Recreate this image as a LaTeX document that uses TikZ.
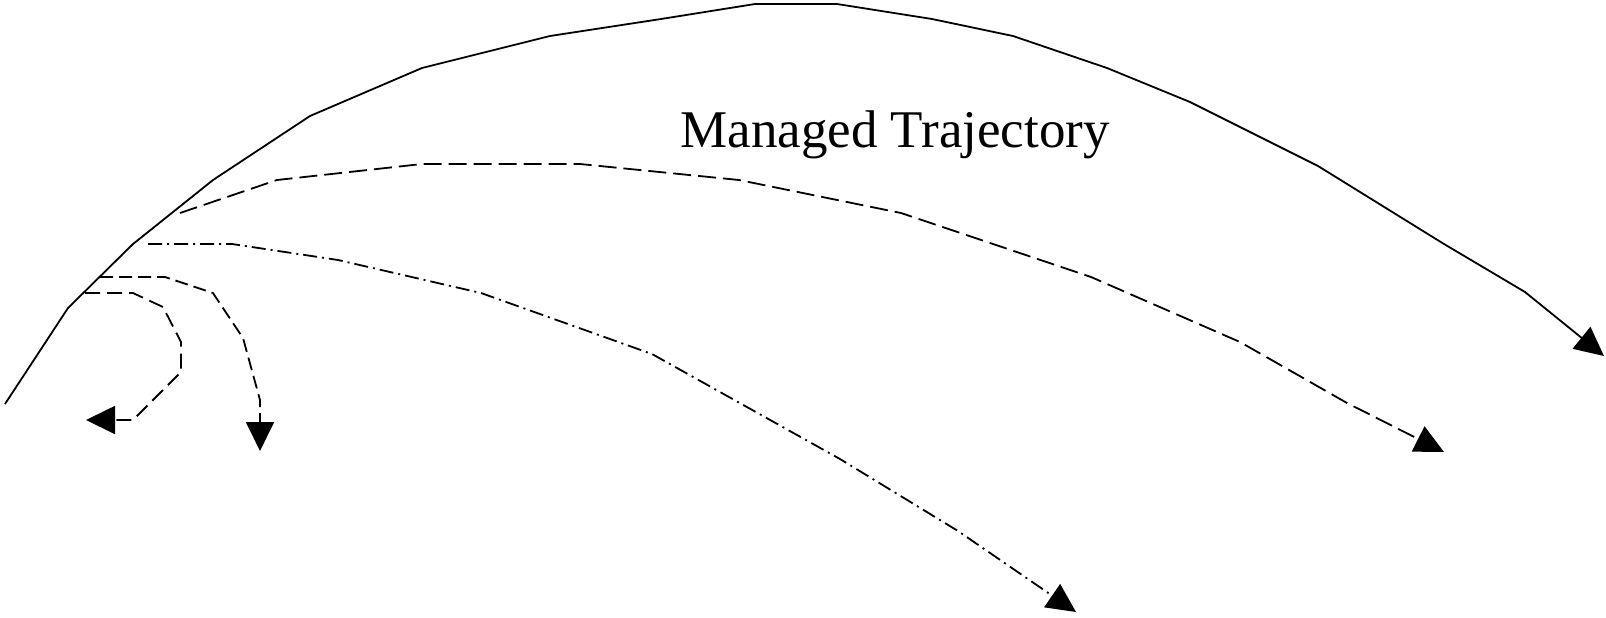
\documentclass[tikz,border=0pt]{standalone}
\usepackage{fontspec}
\setmainfont{Liberation Serif}
\usetikzlibrary{arrows.meta}
\begin{document}
\begin{tikzpicture}[x=0.5pt,y=-0.5pt,
  traj/.style={line width=0.9pt, line join=miter, -{Triangle[length=14.5pt,width=14pt]}},
  longdash/.style={dash pattern=on 9pt off 3.5pt},
  middash/.style={dash pattern=on 7.5pt off 3.5pt},
  shortdash/.style={dash pattern=on 6.5pt off 3pt},
  dashdot/.style={dash pattern=on 7pt off 2.5pt on 1pt off 2.5pt},
  label/.style={font=\fontsize{26.5}{30}\selectfont, inner sep=0pt, anchor=base}]
\useasboundingbox (0,0) rectangle (1606,617);
% managed trajectory (solid)
\draw[traj] (5,404) -- (68,308) -- (133,244) -- (213,180) -- (310,116) -- (422,68)
  -- (550,36) -- (661,19) -- (755,4) -- (837,4) -- (932,19) -- (1013,36) -- (1107,68)
  -- (1190,102) -- (1318,166) -- (1444,244) -- (1525,292) -- (1604,356);
% long dashed branch
\draw[traj, longdash] (180,213) -- (277,180) -- (422,164) -- (580,164) -- (739,180)
  -- (901,213) -- (1091,277) -- (1240,342) -- (1347,403) -- (1444,452);
% dash-dot branch
\draw[traj, dashdot] (148,244) -- (232,244) -- (338,260) -- (481,293) -- (652,354)
  -- (840,459) -- (958,531) -- (1076,612);
% second loop
\draw[traj, shortdash] (100,277) -- (165,277) -- (213,293) -- (243,338) -- (260,400)
  -- (260,422) -- (260,451);
% smallest loop
\draw[traj, middash] (85,293) -- (133,293) -- (163,307) -- (181,342) -- (181,372)
  -- (133,420) -- (115,420) -- (86,420);
\node[label] (title) at (895,147) {Managed Trajectory};
\end{tikzpicture}
\end{document}
